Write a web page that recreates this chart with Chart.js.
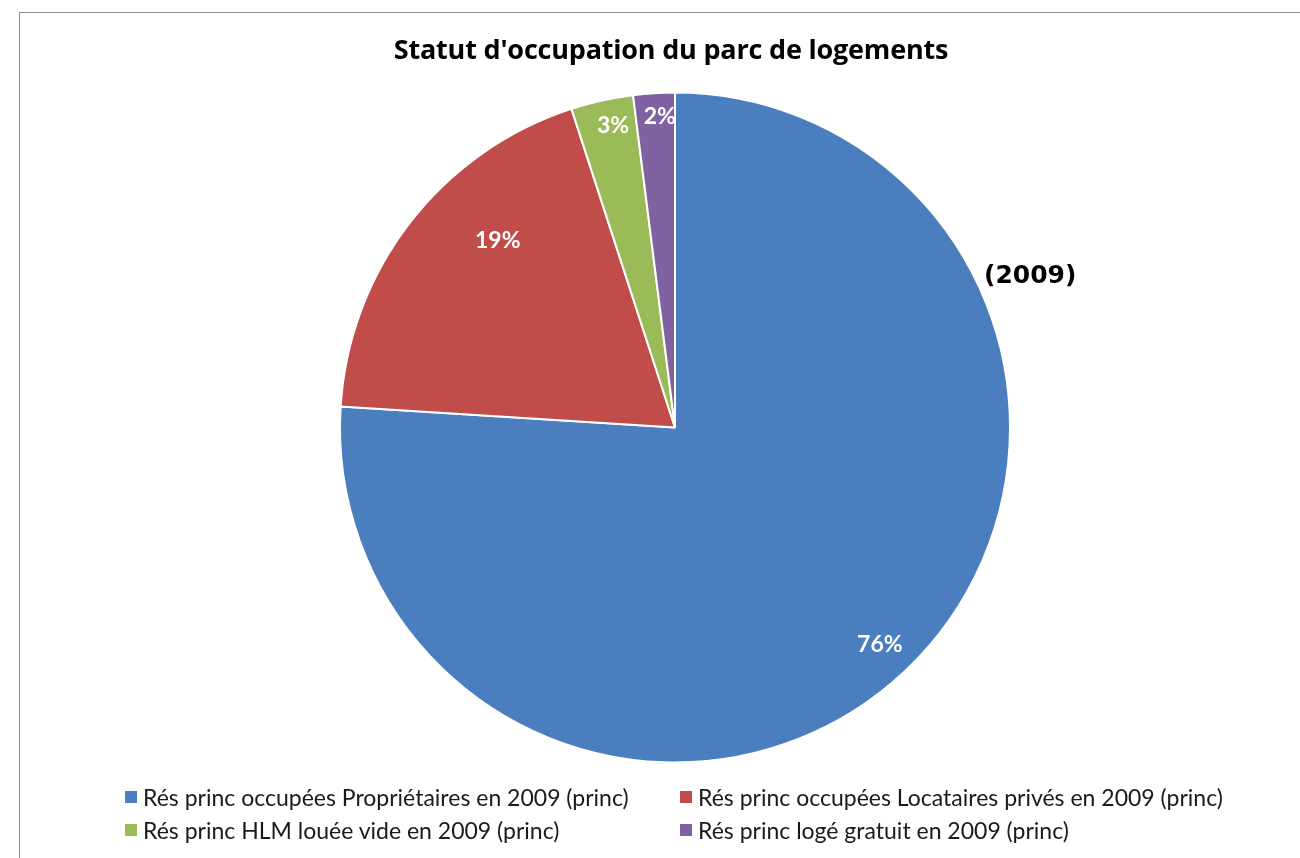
<!DOCTYPE html>
<html lang="fr">
<head>
<meta charset="utf-8">
<title>Statut d'occupation du parc de logements</title>
<script src="https://cdn.jsdelivr.net/npm/chart.js@4/dist/chart.umd.min.js"></script>
<style>
  html, body { margin: 0; padding: 0; background: #fff; }
  #page { position: relative; width: 1300px; height: 858px; overflow: hidden; }
  #frame {
    position: absolute; left: 19px; top: 12px; right: -5px; bottom: -5px;
    border-left: 1px solid #8c8c8c; border-top: 1px solid #8c8c8c;
  }
  #chartBox { position: absolute; left: 0; top: 0; width: 1300px; height: 858px; }
  #titre {
    position: absolute; left: 0; width: 1342px; top: 30px; text-align: center;
    font: bold 27px "Open Sans", sans-serif; color: #000; letter-spacing: -0.2px;
  }
  #annee {
    position: absolute; left: 984px; top: 260px;
    font: bold 25px "DejaVu Sans", sans-serif; color: #000;
  }
  #legende {
    position: absolute; left: 125px; top: 785px;
    display: grid; grid-template-columns: 555px auto; row-gap: 9px;
    font: 23px Lato, sans-serif; color: #1a1a1a;
  }
  .item { display: flex; align-items: center; height: 24px; white-space: nowrap; }
  .carre { width: 12px; height: 12px; margin-right: 6px; flex: none; }
</style>
</head>
<body>
<div id="page">
  <div id="frame"></div>
  <div id="chartBox"><canvas id="pieChart" width="1300" height="858"></canvas></div>
  <div id="titre">Statut d'occupation du parc de logements</div>
  <div id="annee">(2009)</div>
  <div id="legende"></div>
</div>
<script>
// Catégories et parts (%) du parc de logements en 2009
const categories = [
  "Rés princ occupées Propriétaires en 2009 (princ)",
  "Rés princ occupées Locataires privés en 2009 (princ)",
  "Rés princ HLM louée vide en 2009 (princ)",
  "Rés princ logé gratuit en 2009 (princ)"
];
const parts = [76, 19, 3, 2];
const couleurs = ['#4a7ebe', '#c04d4a', '#9bbb59', '#7e62a1'];

// Position des étiquettes : fraction du rayon et décalage d'angle (degrés)
const posEtiquettes = [
  { r: 0.89, da: -0.2 },
  { r: 0.77, da: 8.8 },
  { r: 0.92, da: 1.0 },
  { r: 0.93, da: 0.8 }
];

const etiquettesPlugin = {
  id: 'etiquettes',
  afterDatasetsDraw(chart) {
    const ctx = chart.ctx;
    const meta = chart.getDatasetMeta(0);
    ctx.save();
    ctx.fillStyle = '#fff';
    ctx.font = 'bold 23px Lato, sans-serif';
    ctx.textAlign = 'center';
    ctx.textBaseline = 'middle';
    meta.data.forEach((arc, i) => {
      const p = arc.getProps(['x', 'y', 'startAngle', 'endAngle', 'outerRadius'], true);
      const milieu = (p.startAngle + p.endAngle) / 2 + posEtiquettes[i].da * Math.PI / 180;
      const r = p.outerRadius * posEtiquettes[i].r;
      ctx.fillText(parts[i] + '%', p.x + Math.cos(milieu) * r, p.y + Math.sin(milieu) * r);
    });
    ctx.restore();
  }
};

new Chart(document.getElementById('pieChart').getContext('2d'), {
  type: 'pie',
  data: {
    labels: categories,
    datasets: [{
      data: parts,
      backgroundColor: couleurs,
      borderColor: '#ffffff',
      borderWidth: 2
    }]
  },
  options: {
    responsive: false,
    animation: false,
    layout: { padding: { top: 91, bottom: 94, left: 339, right: 289 } },
    plugins: {
      legend: { display: false },
      title: { display: false },
      tooltip: { enabled: false }
    }
  },
  plugins: [etiquettesPlugin]
});

// Légende sur deux colonnes
const legende = document.getElementById('legende');
categories.forEach((nom, i) => {
  const item = document.createElement('div');
  item.className = 'item';
  const carre = document.createElement('span');
  carre.className = 'carre';
  carre.style.background = couleurs[i];
  item.appendChild(carre);
  item.appendChild(document.createTextNode(nom));
  legende.appendChild(item);
});
</script>
</body>
</html>
